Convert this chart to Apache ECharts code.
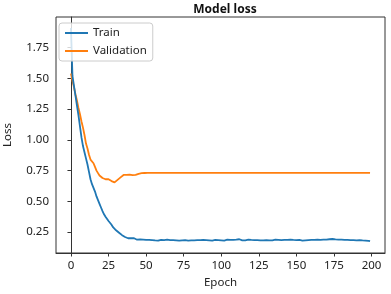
<!DOCTYPE html>
<html>
<head>
<meta charset="utf-8">
<script src="https://cdn.jsdelivr.net/npm/echarts@6/dist/echarts.min.js"></script>
<style>html,body{margin:0;padding:0;background:#fff}#c{width:391px;height:294px}</style>
</head>
<body>
<div id="c"></div>
<script>
const titleText = "Model loss";
const xName = "Epoch";
const yName = "Loss";
const seriesNames = ["Train", "Validation"];
const xTicks = [0, 25, 50, 75, 100, 125, 150, 175, 200];
const yTicks = [0.25, 0.50, 0.75, 1.00, 1.25, 1.50, 1.75];

const trainLoss = [
  1.91, 1.52, 1.44, 1.36, 1.28, 1.20, 1.11, 1.02, 0.95, 0.90,
  0.85, 0.80, 0.74, 0.68, 0.64, 0.61, 0.58, 0.54, 0.51, 0.48,
  0.45, 0.42, 0.395, 0.375, 0.36, 0.34, 0.325, 0.31, 0.29, 0.275,
  0.265, 0.25, 0.245, 0.235, 0.225, 0.215, 0.21, 0.205, 0.2, 0.205,
  0.2, 0.195, 0.2, 0.19, 0.188, 0.185, 0.19, 0.183, 0.188, 0.182,
  0.186, 0.183, 0.187, 0.181, 0.185, 0.188, 0.182, 0.186, 0.18, 0.184,
  0.187, 0.181, 0.185, 0.183, 0.188, 0.182, 0.185, 0.179, 0.184, 0.176,
  0.182, 0.185, 0.18, 0.186, 0.183, 0.178, 0.184, 0.187, 0.181, 0.185,
  0.182, 0.186, 0.183, 0.188, 0.184, 0.193, 0.185, 0.181, 0.186, 0.182,
  0.185, 0.188, 0.183, 0.186, 0.181, 0.184, 0.187, 0.182, 0.185, 0.18,
  0.183, 0.186, 0.181, 0.185, 0.188, 0.183, 0.186, 0.182, 0.187, 0.184,
  0.189, 0.185, 0.192, 0.186, 0.183, 0.187, 0.182, 0.185, 0.188, 0.183,
  0.186, 0.181, 0.185, 0.188, 0.184, 0.187, 0.182, 0.186, 0.183, 0.189,
  0.185, 0.188, 0.183, 0.186, 0.182, 0.185, 0.189, 0.184, 0.187, 0.182,
  0.185, 0.183, 0.187, 0.181, 0.186, 0.184, 0.188, 0.183, 0.186, 0.182,
  0.185, 0.183, 0.187, 0.184, 0.181, 0.186, 0.183, 0.188, 0.185, 0.191,
  0.186, 0.184, 0.187, 0.185, 0.188, 0.186, 0.187, 0.185, 0.188, 0.186,
  0.189, 0.187, 0.192, 0.19, 0.194, 0.189, 0.191, 0.186, 0.189, 0.185,
  0.188, 0.184, 0.187, 0.183, 0.186, 0.182, 0.185, 0.181, 0.184, 0.18,
  0.183, 0.179, 0.184, 0.18, 0.182, 0.178, 0.181, 0.177, 0.179, 0.176
];

const valLoss = [
  1.54, 1.48, 1.43, 1.37, 1.32, 1.26, 1.21, 1.15, 1.10, 1.04,
  0.97, 0.93, 0.88, 0.84, 0.83, 0.81, 0.78, 0.75, 0.73, 0.71,
  0.70, 0.69, 0.685, 0.68, 0.675, 0.68, 0.67, 0.665, 0.66, 0.655,
  0.665, 0.675, 0.69, 0.695, 0.705, 0.715, 0.718, 0.716, 0.715, 0.717,
  0.715, 0.713, 0.712, 0.716, 0.72, 0.724, 0.727, 0.729, 0.73, 0.731,
  0.732, 0.732, 0.732, 0.732, 0.732, 0.732, 0.732, 0.732, 0.732, 0.732,
  0.732, 0.732, 0.732, 0.732, 0.732, 0.732, 0.732, 0.732, 0.732, 0.732,
  0.732, 0.732, 0.732, 0.732, 0.732, 0.732, 0.732, 0.732, 0.732, 0.732,
  0.732, 0.732, 0.732, 0.732, 0.732, 0.732, 0.732, 0.732, 0.732, 0.732,
  0.732, 0.732, 0.732, 0.732, 0.732, 0.732, 0.732, 0.732, 0.732, 0.732,
  0.732, 0.732, 0.732, 0.732, 0.732, 0.732, 0.732, 0.732, 0.732, 0.732,
  0.732, 0.732, 0.732, 0.732, 0.732, 0.732, 0.732, 0.732, 0.732, 0.732,
  0.732, 0.732, 0.732, 0.732, 0.732, 0.732, 0.732, 0.732, 0.732, 0.732,
  0.732, 0.732, 0.732, 0.732, 0.732, 0.732, 0.732, 0.732, 0.732, 0.732,
  0.732, 0.732, 0.732, 0.732, 0.732, 0.732, 0.732, 0.732, 0.732, 0.732,
  0.732, 0.732, 0.732, 0.732, 0.732, 0.732, 0.732, 0.732, 0.732, 0.732,
  0.732, 0.732, 0.732, 0.732, 0.732, 0.732, 0.732, 0.732, 0.732, 0.732,
  0.732, 0.732, 0.732, 0.732, 0.732, 0.732, 0.732, 0.732, 0.732, 0.732,
  0.732, 0.732, 0.732, 0.732, 0.732, 0.732, 0.732, 0.732, 0.732, 0.732,
  0.732, 0.732, 0.732, 0.732, 0.732, 0.732, 0.732, 0.732, 0.732, 0.732
];

const FONT = "Noto Sans";
const TXT = "#222";
const AX = "#333";

const chart = echarts.init(document.getElementById('c'), null, {renderer: 'canvas'});
chart.setOption({
  animation: false,
  backgroundColor: '#fff',
  textStyle: {fontFamily: FONT},
  title: {
    text: titleText, left: 220, top: -1, textAlign: 'center',
    textStyle: {fontFamily: FONT, fontSize: 12, fontWeight: 'bold', color: '#111'}
  },
  grid: {left: 56, top: 17, right: 6, bottom: 41, containLabel: false, outerBoundsMode: 'none',
         show: true, borderColor: AX, borderWidth: 1, backgroundColor: 'transparent'},
  legend: {
    left: 59, top: 23, orient: 'vertical',
    data: seriesNames,
    itemWidth: 23, itemHeight: 10, itemGap: 6,
    padding: [4, 6, 4, 5],
    itemStyle: {opacity: 0},
    lineStyle: {width: 2},
    backgroundColor: 'rgba(255,255,255,0.8)', borderColor: '#ccc', borderWidth: 1, borderRadius: 3,
    textStyle: {fontFamily: FONT, fontSize: 11.5, color: TXT, padding: [0, 0, 0, 0]}
  },
  xAxis: {
    type: 'value', min: -9.95, max: 208.95,
    name: xName, nameLocation: 'middle', nameGap: 21,
    nameTextStyle: {fontFamily: FONT, fontSize: 11.5, color: TXT},
    splitLine: {show: false},
    axisLine: {show: true, lineStyle: {color: AX, width: 1}},
    axisTick: {show: true, length: 3.5, lineStyle: {color: AX}, customValues: xTicks},
    axisLabel: {color: TXT, fontSize: 11.5, fontFamily: FONT, margin: 7, customValues: xTicks, formatter: v => String(Math.round(v))}
  },
  yAxis: {
    type: 'value', min: 0.08, max: 2.0,
    name: yName, nameLocation: 'middle', nameGap: 42, nameRotate: 90,
    nameTextStyle: {fontFamily: FONT, fontSize: 11.5, color: TXT},
    splitLine: {show: false},
    axisLine: {show: true, lineStyle: {color: AX, width: 1}},
    axisTick: {show: true, length: 3.5, lineStyle: {color: AX}, customValues: yTicks},
    axisLabel: {color: TXT, fontSize: 11.5, fontFamily: FONT, margin: 7, customValues: yTicks, formatter: v => v.toFixed(2)}
  },
  series: [
    {name: seriesNames[0], type: 'line', data: trainLoss.map((v, i) => [i, v]), symbol: 'none', showSymbol: false,
     lineStyle: {color: '#1f77b4', width: 1.8}, itemStyle: {color: '#1f77b4'}, z: 3},
    {name: seriesNames[1], type: 'line', data: valLoss.map((v, i) => [i, v]), symbol: 'none', showSymbol: false,
     lineStyle: {color: '#ff7f0e', width: 1.8}, itemStyle: {color: '#ff7f0e'}, z: 2}
  ]
});
</script>
</body>
</html>
